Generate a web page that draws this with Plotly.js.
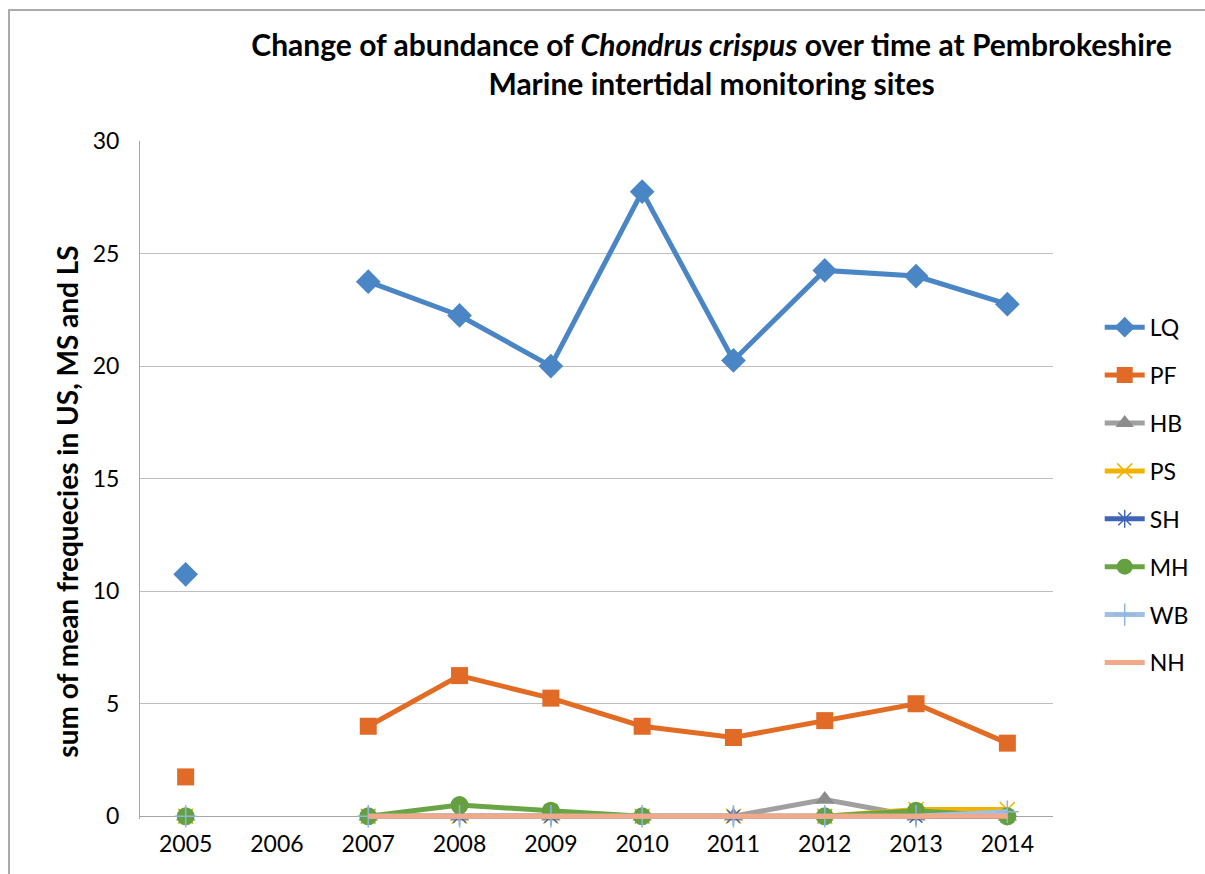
<!DOCTYPE html>
<html>
<head>
<meta charset="utf-8">
<script src="https://cdn.plot.ly/plotly-3.0.1.min.js"></script>
<style>
  html, body { margin: 0; padding: 0; background: #fff; }
  #wrap { position: relative; width: 1205px; height: 874px; overflow: hidden; }
  #chart { width: 1205px; height: 874px; }
  #frame { position: absolute; left: 8px; top: 9px; width: 1300px; height: 1000px;
           border-left: 2px solid #ababab; border-top: 2px solid #ababab; pointer-events: none; }
</style>
</head>
<body>
<div id="wrap"><div id="chart"></div><div id="frame"></div></div>
<script>
const years = ['2005','2006','2007','2008','2009','2010','2011','2012','2013','2014'];

const LQ = [10.75, null, 23.75, 22.25, 20, 27.75, 20.25, 24.25, 24, 22.75];
const PF = [1.75, null, 4, 6.25, 5.25, 4, 3.5, 4.25, 5, 3.25];
const HB = [0, null, 0, 0, 0, 0, 0, 0.75, 0, 0];
const PS = [0, null, 0, 0, 0, 0, 0, 0, 0.3, 0.3];
const SH = [0, null, 0, 0, 0, 0, 0, 0, 0, 0];
const MH = [0, null, 0, 0.5, 0.25, 0, null, 0, 0.25, 0];
const WB = [0, null, 0, 0, 0, 0, 0, 0, 0, 0.2];
const NH = [null, null, 0, 0, 0, 0, 0, 0, 0, 0];

const seriesNames = ['LQ','PF','HB','PS','SH','MH','WB','NH'];
const seriesData = [LQ, PF, HB, PS, SH, MH, WB, NH];
const yTitle = 'sum of mean frequecies in US, MS and LS';

const styles = {
  LQ: {color:'#4a86c5', marker:{symbol:'diamond', size:19, color:'#4a86c5'}},
  PF: {color:'#e36c24', marker:{symbol:'square', size:17, color:'#e06a26'}},
  HB: {color:'#a0a0a0', marker:{symbol:'triangle-up', size:17, color:'#8c8c8c'}},
  PS: {color:'#f0b400', marker:{symbol:'x-thin-open', size:15, color:'#f0b400', line:{width:1.5, color:'#f0b400'}}},
  SH: {color:'#4065b5', marker:{symbol:'asterisk-open', size:15, color:'#4065b5', line:{width:1.5, color:'#4065b5'}}},
  MH: {color:'#6aa545', marker:{symbol:'circle', size:18, color:'#64a03f'}},
  WB: {color:'#a0c0e6', marker:{symbol:'cross-thin-open', size:16, color:'#8fb4e0', line:{width:1.5, color:'#8fb4e0'}}},
  NH: {color:'#f2a98a', marker:null}
};

const traces = seriesNames.map((name, i) => {
  const s = styles[name];
  const t = {
    type: 'scatter',
    x: years,
    y: seriesData[i],
    name: name,
    legendgroup: name,
    mode: s.marker ? 'lines+markers' : 'lines',
    line: {color: s.color, width: 5},
    connectgaps: false,
    cliponaxis: false
  };
  if (s.marker) t.marker = s.marker;
  return t;
});

const layout = {
  width: 1205,
  height: 874,
  paper_bgcolor: '#ffffff',
  plot_bgcolor: '#ffffff',
  margin: {l: 140, r: 151, t: 141, b: 55},
  font: {family: 'Lato, "Open Sans", sans-serif', color: '#000'},
  title: {
    text: 'Change of abundance of <i>Chondrus crispus</i> over time at Pembrokeshire<br>Marine intertidal monitoring sites',
    font: {family: 'Lato, sans-serif', size: 30, color: '#000', weight: 'bold'},
    x: 0.626, xanchor: 'center', xref: 'paper',
    y: 0.936, yanchor: 'top', yref: 'container'
  },
  xaxis: {
    type: 'category',
    range: [-0.5, 9.5],
    showgrid: false,
    showline: false,
    ticks: '',
    tickfont: {size: 23, color: '#000'},
    ticklabelstandoff: 9,
    zeroline: false,
    fixedrange: true
  },
  yaxis: {
    range: [-0.12, 30],
    tick0: 0,
    dtick: 5,
    showgrid: true,
    gridcolor: '#bfbfbf',
    gridwidth: 1,
    showline: true,
    linecolor: '#a6a6a6',
    linewidth: 1,
    zeroline: true,
    zerolinecolor: '#a6a6a6',
    zerolinewidth: 1,
    ticks: '',
    tickfont: {size: 23, color: '#000'},
    ticklabelstandoff: 15,
    fixedrange: true
  },
  annotations: [{
    text: yTitle,
    textangle: -90,
    xref: 'paper', yref: 'paper',
    x: -0.08, y: 0.468,
    xanchor: 'center', yanchor: 'middle',
    showarrow: false,
    font: {family: 'Lato, sans-serif', size: 28, color: '#000', weight: 'bold'}
  }],
  legend: {
    x: 1.05, xanchor: 'left',
    y: 0.757, yanchor: 'top',
    font: {size: 23, color: '#000'},
    tracegroupgap: 15,
    bgcolor: 'rgba(0,0,0,0)',
    itemwidth: 40
  },
  showlegend: true
};

Plotly.newPlot('chart', traces, layout, {staticPlot: true, displayModeBar: false});
</script>
</body>
</html>
